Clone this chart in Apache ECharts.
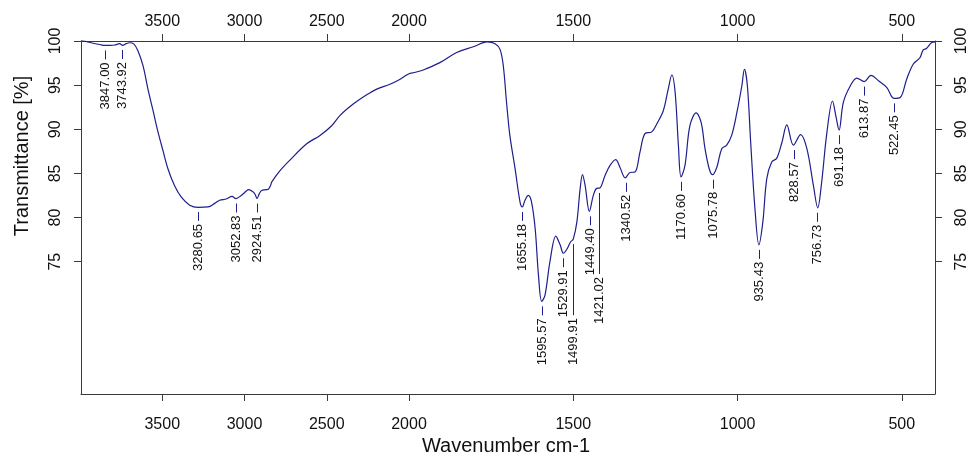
<!DOCTYPE html>
<html><head><meta charset="utf-8">
<script src="https://cdn.jsdelivr.net/npm/echarts@6/dist/echarts.min.js"></script>
<style>html,body{margin:0;padding:0;background:#fff}#c{width:969px;height:455px}</style>
</head><body><div id="c"></div>
<script>
// Spectrum, high wavenumber part (4000-2000 cm-1, compressed scale)
const wnHigh = [3994, 3932, 3880, 3850, 3815, 3789, 3759, 3741, 3719, 3698, 3672, 3648, 3617, 3587, 3556, 3526, 3496, 3465, 3425, 3384, 3333, 3283, 3222, 3181, 3151, 3111, 3076, 3052, 3020, 2989, 2977, 2947, 2935, 2924, 2910, 2896, 2870, 2855, 2840, 2835, 2784, 2724, 2622, 2541, 2470, 2420, 2339, 2257, 2196, 2116, 2065, 2014, 2000];
const tHigh = [100.1, 99.8, 99.6, 99.5, 99.5, 99.55, 99.7, 99.5, 99.7, 99.8, 99.65, 98.9, 97.2, 94.55, 92.1, 89.7, 87.6, 85.5, 83.6, 82.3, 81.4, 81.15, 81.2, 81.6, 81.95, 82.1, 82.4, 82.15, 82.5, 83.0, 83.15, 82.9, 82.6, 82.15, 82.7, 83.05, 83.15, 83.2, 83.7, 84.0, 85.3, 86.5, 88.35, 89.3, 90.4, 91.55, 92.85, 93.9, 94.55, 95.1, 95.55, 96.15, 96.3];
// Spectrum, low wavenumber part (2000-400 cm-1)
const wnLow = [2000, 1966, 1951, 1906, 1855, 1804, 1762, 1738, 1723, 1713, 1703, 1693, 1677, 1662, 1655, 1647, 1637, 1627, 1616, 1606, 1596, 1586, 1571, 1553, 1540, 1530, 1518, 1508, 1500, 1489, 1479, 1472, 1464, 1451, 1439, 1429, 1419, 1403, 1388, 1371, 1358, 1342, 1327, 1312, 1297, 1282, 1261, 1246, 1226, 1211, 1200, 1190, 1180, 1172, 1160, 1145, 1126, 1111, 1099, 1086, 1076, 1063, 1048, 1033, 1018, 1002, 987, 979, 970, 960, 947, 935, 923, 911, 896, 881, 865, 850, 830, 808, 789, 769, 756, 744, 728, 711, 701, 691, 678, 657, 637, 614, 594, 571, 546, 524, 505, 485, 465, 445, 435, 425, 410, 399];
const tLow = [96.3, 96.6, 96.8, 97.55, 98.7, 99.35, 99.9, 99.7, 99.05, 97.2, 93.0, 89.3, 85.5, 81.75, 81.2, 81.95, 82.5, 81.75, 78.75, 73.5, 70.5, 71.2, 75.0, 77.9, 76.9, 75.95, 76.5, 77.25, 77.55, 79.5, 83.3, 84.85, 83.65, 80.7, 82.5, 83.3, 83.35, 84.8, 85.9, 86.55, 85.7, 84.5, 85.1, 85.15, 87.4, 89.5, 89.7, 90.6, 92.1, 94.55, 96.15, 94.2, 88.15, 84.6, 85.9, 90.4, 91.85, 90.8, 87.8, 85.5, 84.85, 85.7, 87.8, 88.2, 89.3, 91.9, 94.9, 96.8, 94.9, 88.5, 81.0, 76.9, 79.5, 84.4, 86.3, 86.7, 88.5, 90.5, 88.2, 89.4, 87.8, 83.6, 81.1, 84.0, 89.65, 93.2, 91.55, 89.9, 93.05, 94.9, 95.8, 95.4, 96.1, 95.5, 94.75, 93.5, 93.6, 95.7, 97.4, 98.1, 99.0, 99.15, 99.8, 99.9];
// Peak annotations
const peakWn = [3847.00, 3743.92, 3280.65, 3052.83, 2924.51, 1655.18, 1595.57, 1529.91, 1499.91, 1449.40, 1421.02, 1340.52, 1170.60, 1075.78, 935.43, 828.57, 756.73, 691.18, 613.87, 522.45];
const peakT = [99.5, 99.55, 81.2, 82.15, 82.15, 81.2, 70.5, 75.95, 77.55, 80.7, 83.35, 84.5, 84.6, 84.85, 76.9, 88.2, 81.1, 89.9, 95.4, 93.5];
const peakLabels = peakWn.map(v => v.toFixed(2));
// Tick labels
const xTicksHigh = [3500, 3000, 2500, 2000];
const xTicksLow = [1500, 1000, 500];
const yTicks = [75, 80, 85, 90, 95, 100];

const FONT = '"Liberation Sans", Arial, Helvetica, sans-serif';
const AXIS_COLOR = '#3a3a3a';
const LINE_COLOR = '#1e1e8c';
const leaderLen = { '1499.91': 71, '1421.02': 81 };
const plain = v => String(v);

function xAxisDef(grid, pos, min, max, ticks, margin) {
  return {
    type: 'value', gridIndex: grid, position: pos, min: min, max: max, inverse: true,
    axisLine: { show: true, onZero: false, lineStyle: { color: AXIS_COLOR, width: 1 } },
    axisTick: { show: true, length: 7, customValues: ticks, lineStyle: { color: AXIS_COLOR } },
    axisLabel: { show: true, customValues: ticks, margin: margin, formatter: plain, color: '#111', fontSize: 16, fontFamily: FONT },
    splitLine: { show: false }
  };
}
function yAxisDef(grid, pos, margin) {
  return {
    type: 'value', gridIndex: grid, position: pos, min: 60, max: 100,
    axisLine: { show: true, lineStyle: { color: AXIS_COLOR, width: 1 } },
    axisTick: { show: true, length: 7, customValues: yTicks, lineStyle: { color: AXIS_COLOR } },
    axisLabel: { show: true, customValues: yTicks, rotate: 90, margin: margin, formatter: plain, color: '#111', fontSize: 16, fontFamily: FONT },
    splitLine: { show: false }
  };
}
function peakSeries(xIdx, yIdx, keep) {
  const items = [];
  peakWn.forEach((w, i) => { if (keep(w)) items.push([w, peakT[i], i]); });
  return {
    type: 'custom', xAxisIndex: xIdx, yAxisIndex: yIdx, data: items, clip: false,
    encode: { x: 0, y: 1 }, silent: true,
    renderItem: function (params, api) {
      const i = api.value(2);
      const p = api.coord([api.value(0), api.value(1)]);
      const L = leaderLen[peakLabels[i]] || 9;
      const x = Math.round(p[0]) + 0.5;
      return {
        type: 'group',
        children: [
          { type: 'line', shape: { x1: x, y1: p[1] + 5, x2: x, y2: p[1] + 5 + L },
            style: { stroke: LINE_COLOR, lineWidth: 1 } },
          { type: 'text', x: x, y: p[1] + 5 + L + 3, rotation: Math.PI / 2,
            style: { text: peakLabels[i], align: 'right', verticalAlign: 'middle',
                     font: '13px ' + FONT, fill: '#111' } }
        ]
      };
    }
  };
}

const chart = echarts.init(document.getElementById('c'), null, { renderer: 'canvas' });
chart.setOption({
  animation: false,
  backgroundColor: '#fff',
  grid: [
    { left: 81, top: 41, width: 328, height: 353, outerBoundsMode: 'none', containLabel: false },
    { left: 409, top: 41, width: 526, height: 353, outerBoundsMode: 'none', containLabel: false }
  ],
  xAxis: [
    xAxisDef(0, 'bottom', 2000, 3994, xTicksHigh, 23),
    xAxisDef(0, 'top', 2000, 3994, xTicksHigh, 11),
    xAxisDef(1, 'bottom', 399, 2000, xTicksLow, 23),
    xAxisDef(1, 'top', 399, 2000, xTicksLow, 11)
  ],
  yAxis: [
    yAxisDef(0, 'left', 17),
    yAxisDef(1, 'right', 19)
  ],
  graphic: [
    { type: 'text', x: 22, y: 156, rotation: Math.PI / 2,
      style: { text: 'Transmittance [%]', align: 'center', verticalAlign: 'middle', font: '20px ' + FONT, fill: '#111' } },
    { type: 'text', x: 506, y: 446,
      style: { text: 'Wavenumber cm-1', align: 'center', verticalAlign: 'middle', font: '20px ' + FONT, fill: '#111' } }
  ],
  series: [
    { type: 'line', xAxisIndex: 0, yAxisIndex: 0, data: wnHigh.map((w, i) => [w, tHigh[i]]),
      symbol: 'none', smooth: 0.35, lineStyle: { color: LINE_COLOR, width: 1.2 }, silent: true },
    { type: 'line', xAxisIndex: 2, yAxisIndex: 1, data: wnLow.map((w, i) => [w, tLow[i]]),
      symbol: 'none', smooth: 0.35, lineStyle: { color: LINE_COLOR, width: 1.2 }, silent: true },
    peakSeries(0, 0, w => w >= 2000),
    peakSeries(2, 1, w => w < 2000)
  ]
});
</script>
</body></html>
